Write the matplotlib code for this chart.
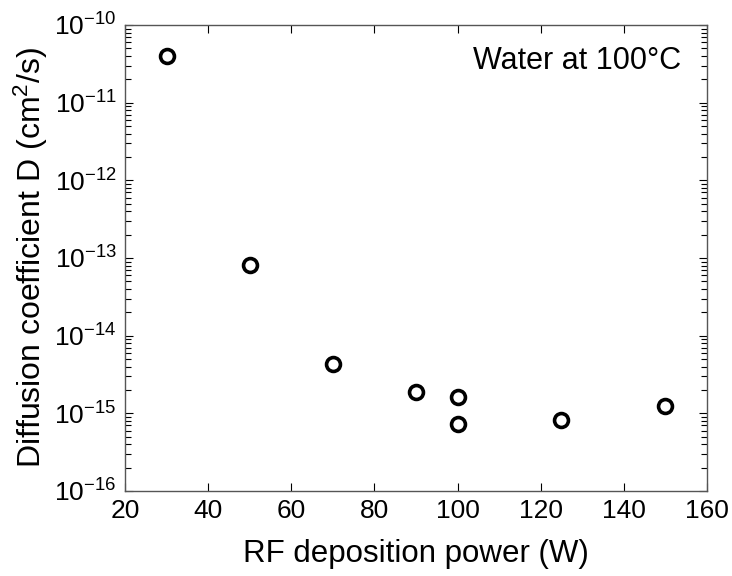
import matplotlib
matplotlib.use('Agg')
import matplotlib.pyplot as plt
from matplotlib.ticker import LogLocator, NullFormatter

plt.rcParams['font.family'] = 'Liberation Sans'
plt.rcParams['mathtext.fontset'] = 'custom'
plt.rcParams['mathtext.rm'] = 'Liberation Sans'
plt.rcParams['mathtext.it'] = 'Liberation Sans'
plt.rcParams['mathtext.default'] = 'rm'

# RF power (W) and diffusion coefficient (cm^2/s)
power = [30, 50, 70, 90, 100, 100, 125, 150]
diff_coef = [3.95e-11, 8.1e-14, 4.3e-15, 1.87e-15, 1.64e-15, 7.2e-16, 8.1e-16, 1.23e-15]

x_ticks = [20, 40, 60, 80, 100, 120, 140, 160]
y_exps = [-16, -15, -14, -13, -12, -11, -10]

fig = plt.figure(figsize=(7.32, 5.76), dpi=100)
ax = fig.add_axes([0.1708, 0.1476, 0.795, 0.809])

ax.plot(power, diff_coef, 'o', mfc='none', mec='black', mew=2.6, ms=10)

ax.set_yscale('log')
ax.set_xlim(20, 160)
ax.set_ylim(1e-16, 1e-10)
ax.set_xticks(x_ticks)
ax.set_yticks([10.0**e for e in y_exps])
ax.set_yticklabels(['10$^{\\mathregular{-%d}}$' % -e for e in y_exps])
ax.yaxis.set_minor_locator(LogLocator(base=10, subs=range(2, 10), numticks=20))
ax.yaxis.set_minor_formatter(NullFormatter())

ax.tick_params(which='both', direction='in', top=True, right=True, labelsize=19, pad=6)
ax.tick_params(which='major', length=6, width=0.8)
ax.tick_params(which='minor', length=4, width=0.8)
for s in ax.spines.values():
    s.set_color('#555555')
    s.set_linewidth(1.0)

ax.set_xlabel('RF deposition power (W)', fontsize=22.5, labelpad=11)
ax.set_ylabel('Diffusion coefficient D (cm$^2$/s)', fontsize=23, labelpad=3)

ax.text(0.955, 0.922, 'Water at 100°C', transform=ax.transAxes, ha='right', va='center', fontsize=22)

fig.savefig('out.png', dpi=100)
